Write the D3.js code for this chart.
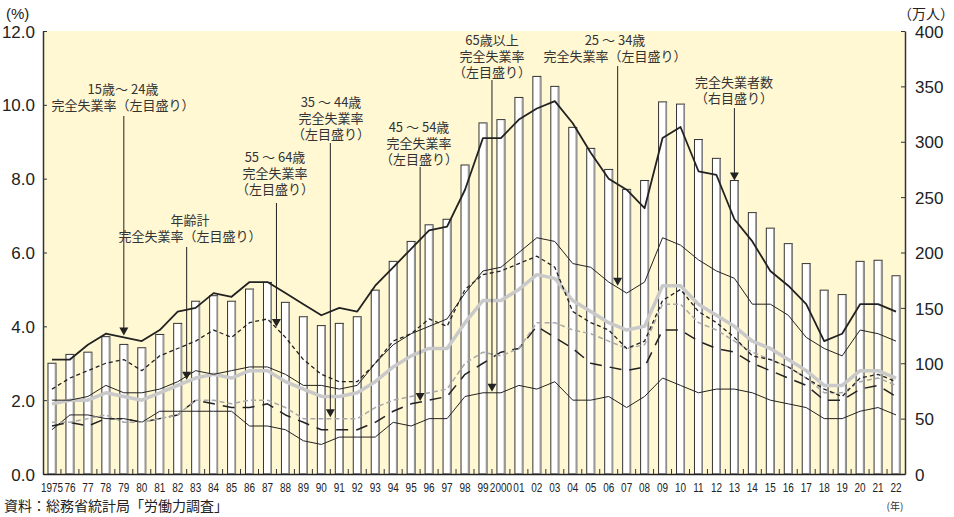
<!DOCTYPE html>
<html>
<head>
<meta charset="utf-8">
<script src="https://cdn.jsdelivr.net/npm/d3@7"></script>
<style>
  body { margin: 0; background: #fff; }
  text { font-family: "Liberation Sans", Arial, sans-serif; fill: #222; }
  .jp { font-family: "Noto Sans CJK JP", sans-serif; font-size: 13px; fill: #333; }
</style>
</head>
<body>
<script>
// years 1975 - 2022
var years = d3.range(1975, 2023);
var yearLabels = years.map(function(y) {
  if (y === 1975 || y === 2000) return String(y);
  return String(y).slice(2);
});

// 完全失業者数 (万人, right axis)
var unemployed = [100,108,110,124,117,114,126,136,156,161,156,167,173,155,142,134,136,142,166,192,
  210,225,230,279,317,320,340,359,350,313,294,275,257,265,336,334,302,285,265,236,
  222,208,190,166,162,192,193,179];

// 完全失業率 (%, left axis)
var rate15to24 = [3.1,3.1,3.5,3.8,3.7,3.6,3.9,4.4,4.5,4.9,4.8,5.2,5.2,4.9,4.6,4.3,4.5,4.4,5.1,5.6,
  6.1,6.6,6.7,7.7,9.1,9.1,9.6,9.9,10.1,9.5,8.7,8.0,7.7,7.2,9.1,9.4,8.2,8.1,6.9,6.3,
  5.5,5.1,4.6,3.6,3.8,4.6,4.6,4.4];
var rate25to34 = [2.0,2.0,2.1,2.4,2.2,2.2,2.3,2.5,2.8,2.7,2.8,2.9,2.9,2.7,2.4,2.4,2.3,2.4,3.0,3.5,
  3.8,4.0,4.2,4.9,5.5,5.6,6.0,6.4,6.3,5.7,5.6,5.2,4.9,5.2,6.4,6.2,5.8,5.5,5.3,4.6,
  4.6,4.3,3.7,3.4,3.2,3.9,3.8,3.6];
var rate35to44 = [1.4,1.4,1.5,1.6,1.4,1.4,1.5,1.6,2.0,2.0,1.9,2.0,2.0,1.8,1.5,1.5,1.5,1.5,1.8,2.0,
  2.1,2.2,2.3,3.0,3.3,3.2,3.4,4.1,4.1,3.9,3.8,3.6,3.4,3.5,4.6,4.6,4.1,3.9,3.6,3.3,
  3.1,2.9,2.6,2.2,2.2,2.5,2.6,2.4];
var rate45to54 = [1.3,1.4,1.3,1.5,1.5,1.4,1.5,1.6,2.0,1.9,1.8,1.8,1.9,1.6,1.4,1.2,1.2,1.2,1.4,1.7,
  1.9,2.0,2.1,2.7,3.0,3.3,3.4,4.0,3.7,3.4,3.0,2.9,2.8,2.9,3.9,3.9,3.6,3.4,3.3,3.0,
  2.8,2.6,2.4,2.0,2.0,2.3,2.4,2.1];
var rate55to64 = [2.3,2.6,2.8,3.0,3.1,2.8,3.2,3.4,3.6,3.9,3.7,4.1,4.2,3.7,3.1,2.7,2.5,2.5,3.0,3.6,
  3.8,4.2,4.0,5.0,5.4,5.5,5.7,5.9,5.6,4.4,4.1,3.9,3.4,3.6,4.7,5.0,4.4,4.1,3.7,3.2,
  3.1,2.9,2.6,2.3,2.1,2.6,2.7,2.5];
var rate65plus = [1.2,1.6,1.6,1.5,1.5,1.4,1.7,1.7,1.7,1.7,1.7,1.3,1.3,1.2,0.9,0.8,1.0,1.0,1.0,1.4,
  1.3,1.5,1.5,2.1,2.2,2.2,2.4,2.3,2.5,2.0,2.0,2.1,1.8,2.1,2.6,2.4,2.2,2.3,2.3,2.2,
  2.0,1.9,1.8,1.5,1.5,1.7,1.8,1.6];
var rateTotal = [1.9,2.0,2.0,2.2,2.1,2.0,2.2,2.4,2.6,2.7,2.6,2.8,2.8,2.5,2.3,2.1,2.1,2.2,2.5,2.9,
  3.2,3.4,3.4,4.1,4.7,4.7,5.0,5.4,5.3,4.7,4.4,4.1,3.9,4.0,5.1,5.1,4.6,4.3,4.0,3.6,
  3.4,3.1,2.8,2.4,2.4,2.8,2.8,2.6];

var leftTicks = [0, 2, 4, 6, 8, 10, 12];
var rightTicks = [0, 50, 100, 150, 200, 250, 300, 350, 400];

//chart parameters
var width = 954;
var height = 517;
var margin = {top: 31, right: 49, bottom: 43, left: 43};
var innerW = width - margin.left - margin.right;
var innerH = height - margin.top - margin.bottom;

var svg = d3.select("body").append("svg")
  .attr("width", width)
  .attr("height", height);

var g = svg.append("g")
  .attr("transform", "translate(" + margin.left + "," + margin.top + ")");

//scales
var x = d3.scaleBand()
  .domain(years)
  .range([0, innerW])
  .padding(0);

var yLeft = d3.scaleLinear()
  .domain([0, 12])
  .range([innerH, 0]);

var yRight = d3.scaleLinear()
  .domain([0, 400])
  .range([innerH, 0]);

var cx = function(i) { return x(years[0]) + x.step() * (i + 0.5); };

//background
g.append("rect")
  .attr("width", innerW)
  .attr("height", innerH)
  .attr("fill", "#fff8d3");

//bars
var barW = 8;
var bars = g.append("g").attr("class", "bars");
bars.selectAll("rect")
  .data(unemployed)
  .enter().append("rect")
  .attr("x", function(d, i) { return cx(i) - barW / 2; })
  .attr("y", function(d) { return yRight(d); })
  .attr("width", barW)
  .attr("height", function(d) { return innerH - yRight(d); })
  .attr("fill", "#fff")
  .attr("stroke", "#333")
  .attr("stroke-width", 1);
bars.selectAll("line")
  .data(unemployed)
  .enter().append("line")
  .attr("x1", function(d, i) { return cx(i) + barW / 2 - 0.5; })
  .attr("x2", function(d, i) { return cx(i) + barW / 2 - 0.5; })
  .attr("y1", function(d) { return yRight(d) + 0.5; })
  .attr("y2", innerH)
  .attr("stroke", "#999")
  .attr("stroke-width", 1.6);

//lines
var line = d3.line()
  .x(function(d, i) { return cx(i); })
  .y(function(d) { return yLeft(d); });

var series = [
  {values: rate65plus, stroke: "#222", width: 1, dash: null},
  {values: rate45to54, stroke: "#222", width: 1.5, dash: "12,8"},
  {values: rate35to44, stroke: "#a8a8a8", width: 1.5, dash: "5,3"},
  {values: rateTotal, stroke: "#c9c9c9", width: 3.5, dash: null},
  {values: rate55to64, stroke: "#222", width: 1.3, dash: "4,3"},
  {values: rate25to34, stroke: "#222", width: 1, dash: null},
  {values: rate15to24, stroke: "#222", width: 1.8, dash: null}
];

g.selectAll("path.series")
  .data(series)
  .enter().append("path")
  .attr("class", "series")
  .attr("d", function(d) { return line(d.values); })
  .attr("fill", "none")
  .attr("stroke", function(d) { return d.stroke; })
  .attr("stroke-width", function(d) { return d.width; })
  .attr("stroke-dasharray", function(d) { return d.dash; })
  .attr("stroke-linejoin", "round");

//axes
var leftAxis = d3.axisLeft(yLeft)
  .tickValues(leftTicks)
  .tickFormat(d3.format(".1f"))
  .tickSizeInner(-4)
  .tickSizeOuter(0)
  .tickPadding(8);

var rightAxis = d3.axisRight(yRight)
  .tickValues(rightTicks)
  .tickSizeInner(-4)
  .tickSizeOuter(0)
  .tickPadding(10);

var bottomAxis = d3.axisBottom(x)
  .tickFormat(function(d, i) { return yearLabels[i]; })
  .tickSize(0)
  .tickPadding(8);

var gl = g.append("g").call(leftAxis);
var gr = g.append("g").attr("transform", "translate(" + innerW + ",0)").call(rightAxis);
var gb = g.append("g").attr("transform", "translate(0," + innerH + ")").call(bottomAxis);

gl.selectAll("text").style("font-size", "17px").attr("dy", "0.36em");
gr.selectAll("text").style("font-size", "17px").attr("dy", "0.36em");
gl.select(".domain").attr("stroke", "#333").attr("stroke-width", 1.5);
gr.select(".domain").attr("stroke", "#333").attr("stroke-width", 1.5);
gl.selectAll(".tick line").attr("stroke", "#333");
gr.selectAll(".tick line").attr("stroke", "#333");
gb.select(".domain").attr("stroke", "#222").attr("stroke-width", 1.5);
// condensed year labels
gb.selectAll("text")
  .style("font-size", "13.5px")
  .attr("transform", "scale(0.74,1)");

//small ticks between bars
g.append("g").selectAll("line")
  .data(d3.range(1, years.length))
  .enter().append("line")
  .attr("x1", function(d) { return x(years[0]) + x.step() * d; })
  .attr("x2", function(d) { return x(years[0]) + x.step() * d; })
  .attr("y1", innerH)
  .attr("y2", innerH - 5)
  .attr("stroke", "#333");

//unit labels
svg.append("text").attr("x", 6).attr("y", 19).style("font-size", "15px").text("(%)");
svg.append("text").attr("x", 898).attr("y", 19)
  .attr("class", "jp").style("font-size", "14px").style("fill", "#222").text("（万人）");
svg.append("text").attr("x", 895).attr("y", 510).attr("text-anchor", "middle")
  .attr("class", "jp").style("font-size", "10px").text("(年)");
svg.append("text").attr("x", 4).attr("y", 511)
  .attr("class", "jp").style("font-size", "14px").style("fill", "#222")
  .text("資料：総務省統計局「労働力調査」");

//annotations
var notes = [
  {lines: ["15歳～ 24歳", "完全失業率（左目盛り）"], cx: 123, y0: 89, at: 4.5, top: 116, tip: 3.75, axis: "L"},
  {lines: ["年齢計", "完全失業率（左目盛り）"], cx: 190, y0: 220, at: 8.0, top: 247, tip: 2.55, axis: "L"},
  {lines: ["55 ～ 64歳", "完全失業率", "（左目盛り）"], cx: 275, y0: 157, at: 13.0, top: 203, tip: 3.98, axis: "L"},
  {lines: ["35 ～ 44歳", "完全失業率", "（左目盛り）"], cx: 331, y0: 102, at: 16.0, top: 143, tip: 1.54, axis: "L"},
  {lines: ["45 ～ 54歳", "完全失業率", "（左目盛り）"], cx: 419, y0: 127, at: 21.0, top: 167, tip: 1.98, axis: "L"},
  {lines: ["65歳以上", "完全失業率", "（左目盛り）"], cx: 492, y0: 40, at: 25.0, top: 80, tip: 2.23, axis: "L"},
  {lines: ["25 ～ 34歳", "完全失業率（左目盛り）"], cx: 615, y0: 40, at: 32.0, top: 66, tip: 5.1, axis: "L"},
  {lines: ["完全失業者数", "（右目盛り）"], cx: 734, y0: 82, at: 38.5, top: 108, tip: 265, axis: "R"}
];

var ann = svg.append("g");
notes.forEach(function(n) {
  // one text block per note, one tspan per line
  var t = ann.append("text")
    .attr("class", "jp")
    .attr("text-anchor", "middle");
  n.lines.forEach(function(s, k) {
    t.append("tspan")
      .attr("x", n.cx)
      .attr("y", n.y0 + k * 16)
      .attr("dy", "0.35em")
      .text(s);
  });
  var ax = margin.left + x(years[0]) + x.step() * n.at;
  var ty = margin.top + (n.axis === "L" ? yLeft(n.tip) : yRight(n.tip));
  ann.append("line")
    .attr("x1", ax).attr("x2", ax)
    .attr("y1", n.top).attr("y2", ty - 6)
    .attr("stroke", "#222").attr("stroke-width", 1);
  ann.append("path")
    .attr("d", "M" + (ax - 4.5) + "," + (ty - 8) + "L" + (ax + 4.5) + "," + (ty - 8) + "L" + ax + "," + ty + "Z")
    .attr("fill", "#222");
});
</script>
</body>
</html>
